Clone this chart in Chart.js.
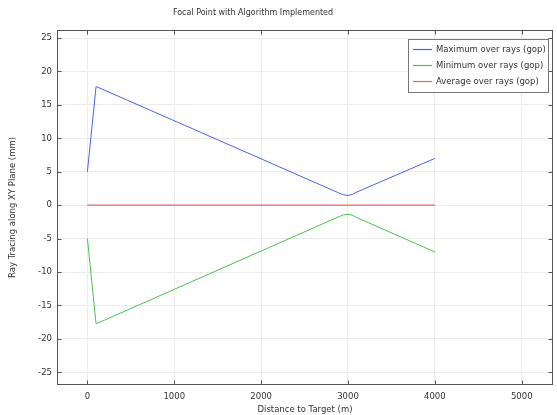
<!DOCTYPE html>
<html>
<head>
<meta charset="utf-8">
<script src="https://cdn.jsdelivr.net/npm/chart.js@4.4.0/dist/chart.umd.min.js"></script>
<style>
  body { margin: 0; background: #fff; }
  #holder { width: 557px; height: 415px; }
</style>
</head>
<body>
<div id="holder"><canvas id="chartHolder"></canvas></div>
<script>
const chartHolder = document.getElementById("chartHolder");

// values
const distance = [0, 100, 2900, 2950, 3000, 3050, 3100, 4000];
const maxRays = [5, 17.75, 1.8, 1.55, 1.45, 1.6, 1.95, 7];
const minRays = [-5, -17.75, -1.7, -1.45, -1.35, -1.5, -1.85, -7];
const avgDistance = [0, 4000];
const avgRays = [0, 0];
const xTicks = [0, 1000, 2000, 3000, 4000, 5000];
const yTicks = [-25, -20, -15, -10, -5, 0, 5, 10, 15, 20, 25];

const seriesColors = ["#4a63f0", "#4cc34c", "#e06a6a"];
const titleText = "Focal Point with Algorithm Implemented";
const fontName = "'DejaVu Sans', sans-serif";

function toPoints(xs, ys)
{
    return xs.map((x, i) => ({ x: x, y: ys[i] }));
}

// draws the title, the box round the plot, small tick marks and the legend
const extras = {
    id: "extras",
    afterDraw(chart)
    {
        const ctx = chart.ctx;
        const area = chart.chartArea;
        const L = Math.round(area.left) + 0.5, R = Math.round(area.right) - 0.5;
        const T = Math.round(area.top) + 0.5, B = Math.round(area.bottom) - 0.5;
        ctx.save();

        ctx.fillStyle = "#333";
        ctx.font = "8px " + fontName;
        ctx.textAlign = "center";
        ctx.textBaseline = "middle";
        ctx.fillText(titleText, 253, 13);

        ctx.strokeStyle = "#555";
        ctx.lineWidth = 1;
        ctx.strokeRect(L, T, R - L, B - T);

        // tick marks pointing into the plot on all four sides
        ctx.beginPath();
        xTicks.forEach(v => {
            const px = Math.round(chart.scales.x.getPixelForValue(v)) + 0.5;
            ctx.moveTo(px, B); ctx.lineTo(px, B - 4);
            ctx.moveTo(px, T); ctx.lineTo(px, T + 4);
        });
        yTicks.forEach(v => {
            const py = Math.round(chart.scales.y.getPixelForValue(v)) + 0.5;
            ctx.moveTo(L, py); ctx.lineTo(L + 4, py);
            ctx.moveTo(R, py); ctx.lineTo(R - 4, py);
        });
        ctx.stroke();

        // legend box
        const bx = 408.5, by = 39.5, bw = 140, bh = 53;
        ctx.fillStyle = "#fff";
        ctx.fillRect(bx, by, bw, bh);
        ctx.strokeStyle = "#777";
        ctx.strokeRect(bx, by, bw, bh);

        ctx.textAlign = "left";
        ctx.font = "8.5px " + fontName;
        chart.data.datasets.forEach((ds, i) => {
            const yy = 49.5 + i * 16;
            ctx.strokeStyle = seriesColors[i];
            ctx.lineWidth = 1.2;
            ctx.beginPath();
            ctx.moveTo(413, yy);
            ctx.lineTo(432, yy);
            ctx.stroke();
            ctx.fillStyle = "#333";
            ctx.fillText(ds.label, 436, yy);
        });

        ctx.restore();
    }
};

new Chart(chartHolder, {
    type: "line",
    data: {
        datasets: [
            {
                label: "Maximum over rays (gop)",
                data: toPoints(distance, maxRays),
                borderColor: seriesColors[0],
                borderWidth: 1,
                pointRadius: 0
            },
            {
                label: "Minimum over rays (gop)",
                data: toPoints(distance, minRays),
                borderColor: seriesColors[1],
                borderWidth: 1,
                pointRadius: 0
            },
            {
                label: "Average over rays (gop)",
                data: toPoints(avgDistance, avgRays),
                borderColor: seriesColors[2],
                borderWidth: 1.2,
                pointRadius: 0
            }
        ]
    },
    options: {
        responsive: true,
        maintainAspectRatio: false,
        animation: false,
        layout: { padding: { top: 30, right: 4, left: 8, bottom: 0 } },
        plugins: {
            legend: { display: false },
            title: { display: false },
            tooltip: { enabled: false }
        },
        scales: {
            x: {
                type: "linear",
                min: -350,
                max: 5360,
                afterBuildTicks: scale => { scale.ticks = xTicks.map(v => ({ value: v })); },
                afterFit: scale => { scale.height = 30; },
                grid: { color: "#ececec", drawTicks: false },
                border: { display: false },
                ticks: { color: "#333", font: { family: fontName, size: 8.5 }, padding: 7, maxRotation: 0, callback: v => String(v) },
                title: { display: true, text: "Distance to Target (m)", color: "#333", font: { family: fontName, size: 8.5 }, padding: 0 }
            },
            y: {
                type: "linear",
                min: -26.9,
                max: 26.2,
                afterBuildTicks: scale => { scale.ticks = yTicks.map(v => ({ value: v })); },
                afterFit: scale => { scale.width = 49; },
                grid: { color: "#ececec", drawTicks: false },
                border: { display: false },
                ticks: { color: "#333", font: { family: fontName, size: 8.5 }, padding: 5, callback: v => String(v) },
                title: { display: true, text: "Ray Tracing along XY Plane (mm)", color: "#333", font: { family: fontName, size: 8.5 }, padding: 0 }
            }
        }
    },
    plugins: [extras]
});
</script>
</body>
</html>
